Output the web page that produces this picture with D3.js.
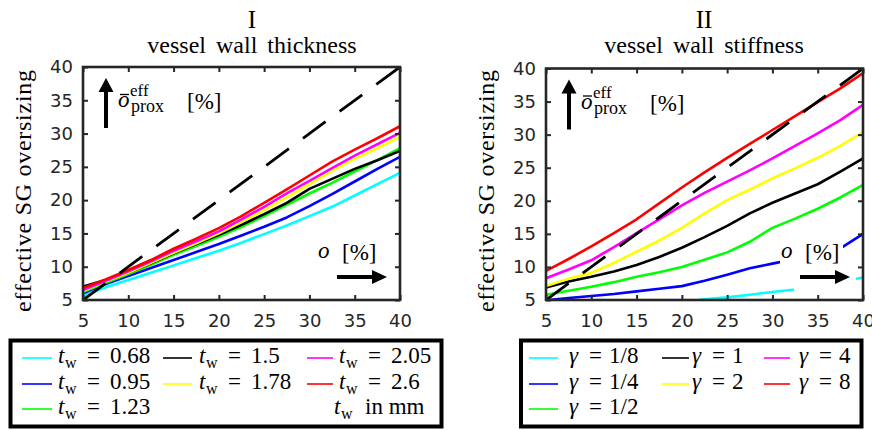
<!DOCTYPE html>
<html><head><meta charset="utf-8">
<script src="https://cdn.jsdelivr.net/npm/d3@7"></script>
<style>body{margin:0;background:#fff}svg{display:block}</style>
</head><body><svg id="c" width="872" height="430"></svg>
<script>
// ---------- data ----------
const xValues = [5, 7.5, 10, 12.5, 15, 17.5, 20, 22.5, 25, 27.5, 30, 32.5, 35, 37.5, 40];
const xTicks = [5, 10, 15, 20, 25, 30, 35, 40];
const yTicks = [5, 10, 15, 20, 25, 30, 35, 40];
const reference = [5, 40]; // dashed diagonal o_eff = o

// Panel I: vessel wall thickness t_w [mm]
const thicknessLabels = ["0.68", "0.95", "1.23", "1.5", "1.78", "2.05", "2.6"];
const tw068 = [5.6, 6.9, 8.0, 9.1, 10.2, 11.3, 12.4, 13.6, 14.9, 16.2, 17.6, 19.0, 20.7, 22.4, 24.1];
const tw095 = [6.0, 7.4, 8.6, 9.8, 11.0, 12.2, 13.4, 14.7, 16.0, 17.4, 19.1, 20.9, 22.8, 24.7, 26.5];
const tw123 = [6.2, 7.6, 8.9, 10.3, 11.8, 13.1, 14.5, 16.0, 17.6, 19.3, 21.0, 22.6, 24.3, 26.0, 27.8];
const tw150 = [7.0, 8.0, 9.1, 10.5, 12.0, 13.4, 14.8, 16.3, 17.9, 19.6, 21.7, 23.2, 24.7, 26.0, 27.4];
const tw178 = [6.4, 7.8, 9.1, 10.6, 12.1, 13.5, 15.0, 16.7, 18.5, 20.4, 22.4, 24.4, 26.2, 27.8, 29.5];
const tw205 = [6.5, 7.9, 9.3, 10.8, 12.4, 13.8, 15.3, 17.1, 19.0, 21.0, 22.9, 24.8, 26.7, 28.4, 30.1];
const tw260 = [6.8, 8.1, 9.5, 11.0, 12.7, 14.2, 15.8, 17.6, 19.6, 21.6, 23.7, 25.8, 27.6, 29.3, 31.1];

// Panel II: vessel wall stiffness gamma
const stiffnessLabels = ["1/8", "1/4", "1/2", "1", "2", "4", "8"];
const g1_8 = [null, null, null, null, null, null, 4.6, 5.1, 5.4, 5.8, 6.2, 6.6, 7.2, 7.8, 8.4];
const g1_4 = [4.95, 5.3, 5.6, 5.9, 6.3, 6.7, 7.1, 7.9, 8.8, 9.8, 10.5, 11.2, 11.8, 12.8, 15.0];
const g1_2 = [5.8, 6.4, 7.0, 7.7, 8.5, 9.2, 10.0, 11.1, 12.2, 13.8, 15.9, 17.3, 18.8, 20.5, 22.4];
const g1 = [6.9, 7.8, 8.5, 9.3, 10.3, 11.5, 12.9, 14.5, 16.2, 18.1, 19.7, 21.1, 22.5, 24.4, 26.4];
const g2 = [7.1, 8.2, 9.1, 10.6, 12.3, 14.0, 15.9, 18.1, 20.1, 21.7, 23.4, 24.9, 26.5, 28.3, 30.4];
const g4 = [8.3, 9.6, 11.0, 13.0, 15.1, 17.2, 19.3, 21.2, 22.9, 24.6, 26.4, 28.3, 30.2, 32.2, 34.5];
const g8 = [9.4, 11.2, 13.1, 15.1, 17.2, 19.6, 22.0, 24.3, 26.5, 28.6, 30.7, 32.8, 34.9, 37.0, 39.3];

const seriesColors = ["#00ffff", "#0000ff", "#00ff00", "#000000", "#ffff00", "#ff00ff", "#ff0000"];

// ---------- drawing ----------
const svg = d3.select("#c");
const AX = "#262626";
const SERIF = "'Liberation Serif','Times New Roman',serif";
const SANS = "'DejaVu Sans',sans-serif";

const panels = [
  {id: "p1", roman: "I", title: "vessel wall thickness", titleX: 252,
   box: {l: 83, r: 400, t: 67, b: 300}, ylabX: 31,
   series: [tw068, tw095, tw123, tw150, tw178, tw205, tw260]},
  {id: "p2", roman: "II", title: "vessel wall stiffness", titleX: 704,
   box: {l: 546, r: 863, t: 68.5, b: 300}, ylabX: 494,
   series: [g1_8, g1_4, g1_2, g1, g2, g4, g8]}
];

panels.forEach(p => {
  const B = p.box;
  const x = d3.scaleLinear().domain([5, 40]).range([B.l, B.r]);
  const y = d3.scaleLinear().domain([5, 40]).range([B.b, B.t]);
  const g = svg.append("g");

  g.append("clipPath").attr("id", "clip-" + p.id)
    .append("rect").attr("x", B.l).attr("y", B.t).attr("width", B.r - B.l).attr("height", B.b - B.t);

  // titles
  g.append("text").attr("x", p.titleX).attr("y", 28).attr("text-anchor", "middle")
    .attr("font-family", SERIF).attr("font-size", 25).text(p.roman);
  g.append("text").attr("x", p.titleX).attr("y", 53).attr("text-anchor", "middle")
    .attr("font-family", SERIF).attr("font-size", 24).attr("word-spacing", 4).text(p.title);

  // y label
  g.append("text").attr("transform", `translate(${p.ylabX},191) rotate(-90)`)
    .attr("text-anchor", "middle").attr("font-family", SERIF).attr("font-size", 24)
    .attr("textLength", 242).attr("lengthAdjust", "spacing")
    .text("effective SG oversizing");

  // data lines
  const line = d3.line().defined(d => d[1] != null).x(d => x(d[0])).y(d => y(d[1]));
  const lines = g.append("g").attr("clip-path", `url(#clip-${p.id})`);
  p.series.forEach((s, i) => {
    lines.append("path").datum(xValues.map((xv, k) => [xv, s[k]]))
      .attr("d", line).attr("fill", "none").attr("stroke", seriesColors[i])
      .attr("stroke-width", 2.6).attr("stroke-linejoin", "round");
  });
  lines.append("path").datum(reference.map(v => [v, v]))
    .attr("d", line).attr("fill", "none").attr("stroke", "#000")
    .attr("stroke-width", 2.8).attr("stroke-dasharray", "28,17.5");

  // annotations (white-backed text boxes)
  const ann = g.append("g");
  ann.append("rect").attr("x", B.l + 234).attr("y", B.b - 64).attr("width", 63).attr("height", 33).attr("fill", "#fff");
  ann.append("rect").attr("x", B.l + 248).attr("y", B.b - 32).attr("width", 62).attr("height", 24).attr("fill", "#fff");
  ann.append("text").attr("x", B.l + 235).attr("y", B.b - 42).attr("font-family", SERIF)
    .attr("font-size", 23).attr("font-style", "italic").text("o");
  ann.append("text").attr("x", B.l + 259).attr("y", B.b - 40).attr("font-family", SERIF)
    .attr("font-size", 23).text("[%]");
  ann.append("path").attr("fill", "#000")
    .attr("d", `M${B.l + 254},${B.b - 25}H${B.l + 289}V${B.b - 30}L${B.l + 304},${B.b - 23}L${B.l + 289},${B.b - 16}V${B.b - 21}H${B.l + 254}Z`);
  // upper-left
  const ux = B.l + 23, ut = B.t + 11;
  ann.append("path").attr("fill", "#000")
    .attr("d", `M${ux - 2},${ut + 50}V${ut + 14}H${ux - 7.5}L${ux},${ut}L${ux + 7.5},${ut + 14}H${ux + 2}V${ut + 50}Z`);
  ann.append("text").attr("x", B.l + 35).attr("y", B.t + 40).attr("font-family", SERIF)
    .attr("font-size", 23).attr("font-style", "italic").text("o");
  ann.append("line").attr("x1", B.l + 37).attr("x2", B.l + 46).attr("y1", B.t + 27.5).attr("y2", B.t + 27.5)
    .attr("stroke", "#000").attr("stroke-width", 1.3);
  ann.append("text").attr("x", B.l + 47).attr("y", B.t + 29).attr("font-family", SERIF)
    .attr("font-size", 17).text("eff");
  ann.append("text").attr("x", B.l + 48).attr("y", B.t + 45).attr("font-family", SERIF)
    .attr("font-size", 18).text("prox");
  ann.append("text").attr("x", B.l + 104).attr("y", B.t + 42).attr("font-family", SERIF)
    .attr("font-size", 23).text("[%]");

  // axes
  const fmt = d3.format("d");
  const bottom = g.append("g").attr("transform", `translate(0,${B.b})`)
    .call(d3.axisBottom(x).tickValues(xTicks).tickSize(-5).tickPadding(14).tickFormat(fmt));
  const left = g.append("g").attr("transform", `translate(${B.l},0)`)
    .call(d3.axisLeft(y).tickValues(yTicks).tickSize(-5).tickPadding(10).tickFormat(fmt));
  const top = g.append("g").attr("transform", `translate(0,${B.t})`)
    .call(d3.axisTop(x).tickValues(xTicks).tickSize(-5).tickFormat(""));
  const right = g.append("g").attr("transform", `translate(${B.r},0)`)
    .call(d3.axisRight(y).tickValues(yTicks).tickSize(-5).tickFormat(""));
  [bottom, left, top, right].forEach(a => {
    a.select(".domain").remove();
    a.selectAll(".tick line").attr("stroke", AX).attr("stroke-width", 2);
    a.selectAll(".tick text").attr("fill", AX).attr("font-family", SANS).attr("font-size", 18);
  });
  g.append("rect").attr("x", B.l).attr("y", B.t).attr("width", B.r - B.l).attr("height", B.b - B.t)
    .attr("fill", "none").attr("stroke", AX).attr("stroke-width", 2.6);
});

// ---------- legends ----------
const rowBase = [363, 389, 414];
function legend(box, cols, entries, kind, extra) {
  const g = svg.append("g");
  g.append("rect").attr("x", box.l).attr("y", box.t).attr("width", box.r - box.l).attr("height", box.b - box.t)
    .attr("fill", "#fff").attr("stroke", "#000").attr("stroke-width", 4);
  entries.forEach((e, i) => {
    const c = cols[e.col];
    const by = rowBase[e.row];
    g.append("line").attr("x1", c.l0).attr("x2", c.l1).attr("y1", by - 5).attr("y2", by - 5)
      .attr("stroke", seriesColors[i]).attr("stroke-width", 1.6);
    const t = g.append("text").attr("font-family", SERIF).attr("font-size", 23).attr("y", by);
    if (kind === "t") {
      t.append("tspan").attr("x", c.tx).attr("font-style", "italic").text("t");
      t.append("tspan").attr("x", c.tx + 7).attr("dy", 5).attr("font-size", 16).text("w");
      t.append("tspan").attr("x", c.tx + 29).attr("dy", -5).text("=");
      t.append("tspan").attr("x", c.tx + 52).text(e.label);
    } else {
      t.append("tspan").attr("x", c.tx).attr("font-style", "italic").text("γ");
      t.append("tspan").attr("x", c.tx + 20).text("=");
      t.append("tspan").attr("x", c.tx + 40).text(e.label);
    }
  });
  if (extra) extra(g);
}
const layout = [[0, 0], [0, 1], [0, 2], [1, 0], [1, 1], [2, 0], [2, 1]];
legend({l: 10.5, r: 441.5, t: 340.5, b: 426.5},
  [{l0: 22, l1: 52, tx: 58}, {l0: 163, l1: 192, tx: 199}, {l0: 307, l1: 333, tx: 339}],
  thicknessLabels.map((lab, i) => ({label: lab, col: layout[i][0], row: layout[i][1]})), "t",
  g => {
    const t = g.append("text").attr("font-family", SERIF).attr("font-size", 23).attr("y", rowBase[2]);
    t.append("tspan").attr("x", 334).attr("font-style", "italic").text("t");
    t.append("tspan").attr("x", 341).attr("dy", 5).attr("font-size", 16).text("w");
    t.append("tspan").attr("x", 365).attr("dy", -5).text("in mm");
  });
legend({l: 521, r: 861.5, t: 340.5, b: 426.5},
  [{l0: 529, l1: 558, tx: 569}, {l0: 662, l1: 689, tx: 692}, {l0: 764, l1: 790, tx: 799}],
  stiffnessLabels.map((lab, i) => ({label: lab, col: layout[i][0], row: layout[i][1]})), "g");
</script>
</body></html>
